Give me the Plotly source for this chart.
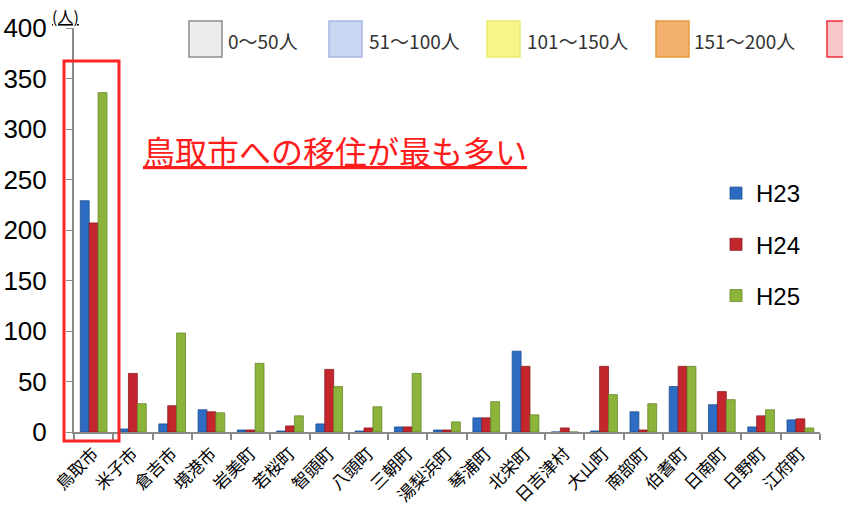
import plotly.graph_objects as go

# 市町村別 移住者数（人）
towns = ["鳥取市", "米子市", "倉吉市", "境港市", "岩美町", "若桜町", "智頭町", "八頭町",
         "三朝町", "湯梨浜町", "琴浦町", "北栄町", "日吉津村", "大山町", "南部町",
         "伯耆町", "日南町", "日野町", "江府町"]
h23 = [229, 3, 8, 22, 2, 1, 8, 1, 5, 2, 14, 80, 0, 1, 20, 45, 27, 5, 12]
h24 = [207, 58, 26, 20, 2, 6, 62, 4, 5, 2, 14, 65, 4, 65, 2, 65, 40, 16, 13]
h25 = [336, 28, 98, 19, 68, 16, 45, 25, 58, 10, 30, 17, 0, 37, 28, 65, 32, 22, 4]

series_names = ["H23", "H24", "H25"]
series_colors = ["#2d6cc2", "#c4262d", "#8db43a"]
series_lines = ["#1d4f93", "#8e1a1f", "#66862a"]

# 地図凡例（人数区分）
band_labels = ["0〜50人", "51〜100人", "101〜150人", "151〜200人", ""]
band_fills = ["#ececec", "#c8d6f2", "#f6f58a", "#f4b06e", "#f7c6c8"]
band_edges = ["#8c8c8c", "#aab6e4", "#eaea70", "#e39a3c", "#ee2a3a"]

W, H = 843, 510
L, R, T, B = 74, 23, 28, 78
PW, PH = W - L - R, H - T - B


def px(x):
    return (x - L) / PW


def py(y):
    return (H - B - y) / PH


fig = go.Figure()
for name, vals, col, lc in zip(series_names, [h23, h24, h25], series_colors, series_lines):
    fig.add_trace(go.Bar(
        x=towns, y=vals, name=name, legendgroup=name,
        marker=dict(color=col, line=dict(color=lc, width=0.8)),
    ))

shapes = []
annotations = []

# 鳥取市の強調枠
shapes.append(dict(type="rect", xref="paper", yref="paper",
                   x0=px(64), x1=px(119), y0=py(441), y1=py(61),
                   line=dict(color="#ff2424", width=3), fillcolor="rgba(0,0,0,0)"))

# 上部の人数区分凡例
box_x = [189, 329, 487, 656, 827]
text_x = [226, 367, 525, 692]
for i, bx in enumerate(box_x):
    shapes.append(dict(type="rect", xref="paper", yref="paper",
                       x0=px(bx), x1=px(bx + 33), y0=py(57), y1=py(21),
                       line=dict(color=band_edges[i], width=1.5), fillcolor=band_fills[i]))
for i, tx in enumerate(text_x):
    annotations.append(dict(xref="paper", yref="paper", x=px(tx), y=py(40),
                            xanchor="left", yanchor="middle", showarrow=False,
                            text=band_labels[i],
                            font=dict(family="Noto Sans CJK JP", size=19, color="#333333")))

annotations.append(dict(xref="paper", yref="paper", x=px(141), y=py(150),
                        xanchor="left", yanchor="middle", showarrow=False,
                        text="<u>鳥取市への移住が最も多い</u>",
                        font=dict(family="Noto Sans CJK JP", size=32, color="#ff1c1c")))

annotations.append(dict(xref="paper", yref="paper", x=px(50), y=py(16),
                        xanchor="left", yanchor="middle", showarrow=False,
                        text="<u>(人)</u>",
                        font=dict(family="Noto Sans CJK JP", size=16, color="#000000")))

fig.update_layout(
    width=W, height=H,
    margin=dict(l=L, r=R, t=T, b=B, pad=0),
    paper_bgcolor="white", plot_bgcolor="white",
    barmode="group", bargap=0.32, bargroupgap=0,
    shapes=shapes, annotations=annotations,
    legend=dict(x=px(716), y=py(171), xanchor="left", yanchor="top",
                font=dict(family="Liberation Sans, Arial", size=24, color="#000000"),
                tracegroupgap=17, bgcolor="rgba(0,0,0,0)", itemwidth=30),
    xaxis=dict(type="category", showline=True, linecolor="#8a8a8a", linewidth=2,
               ticks="outside", tickson="boundaries", ticklen=6, tickcolor="#8a8a8a",
               tickwidth=2, tickangle=-45, showgrid=False, ticklabelstandoff=3,
               automargin=False,
               tickfont=dict(family="Noto Sans CJK JP", size=17, color="#000000")),
    yaxis=dict(range=[0, 400], tickvals=[0, 50, 100, 150, 200, 250, 300, 350, 400],
               showline=True, linecolor="#8a8a8a", linewidth=2, showgrid=False,
               ticks="outside", ticklen=6, tickcolor="#8a8a8a", tickwidth=1,
               zeroline=False, ticklabelstandoff=14, automargin=False,
               tickfont=dict(family="Liberation Sans, Arial", size=26, color="#000000")),
)

fig.write_html("out.html")
